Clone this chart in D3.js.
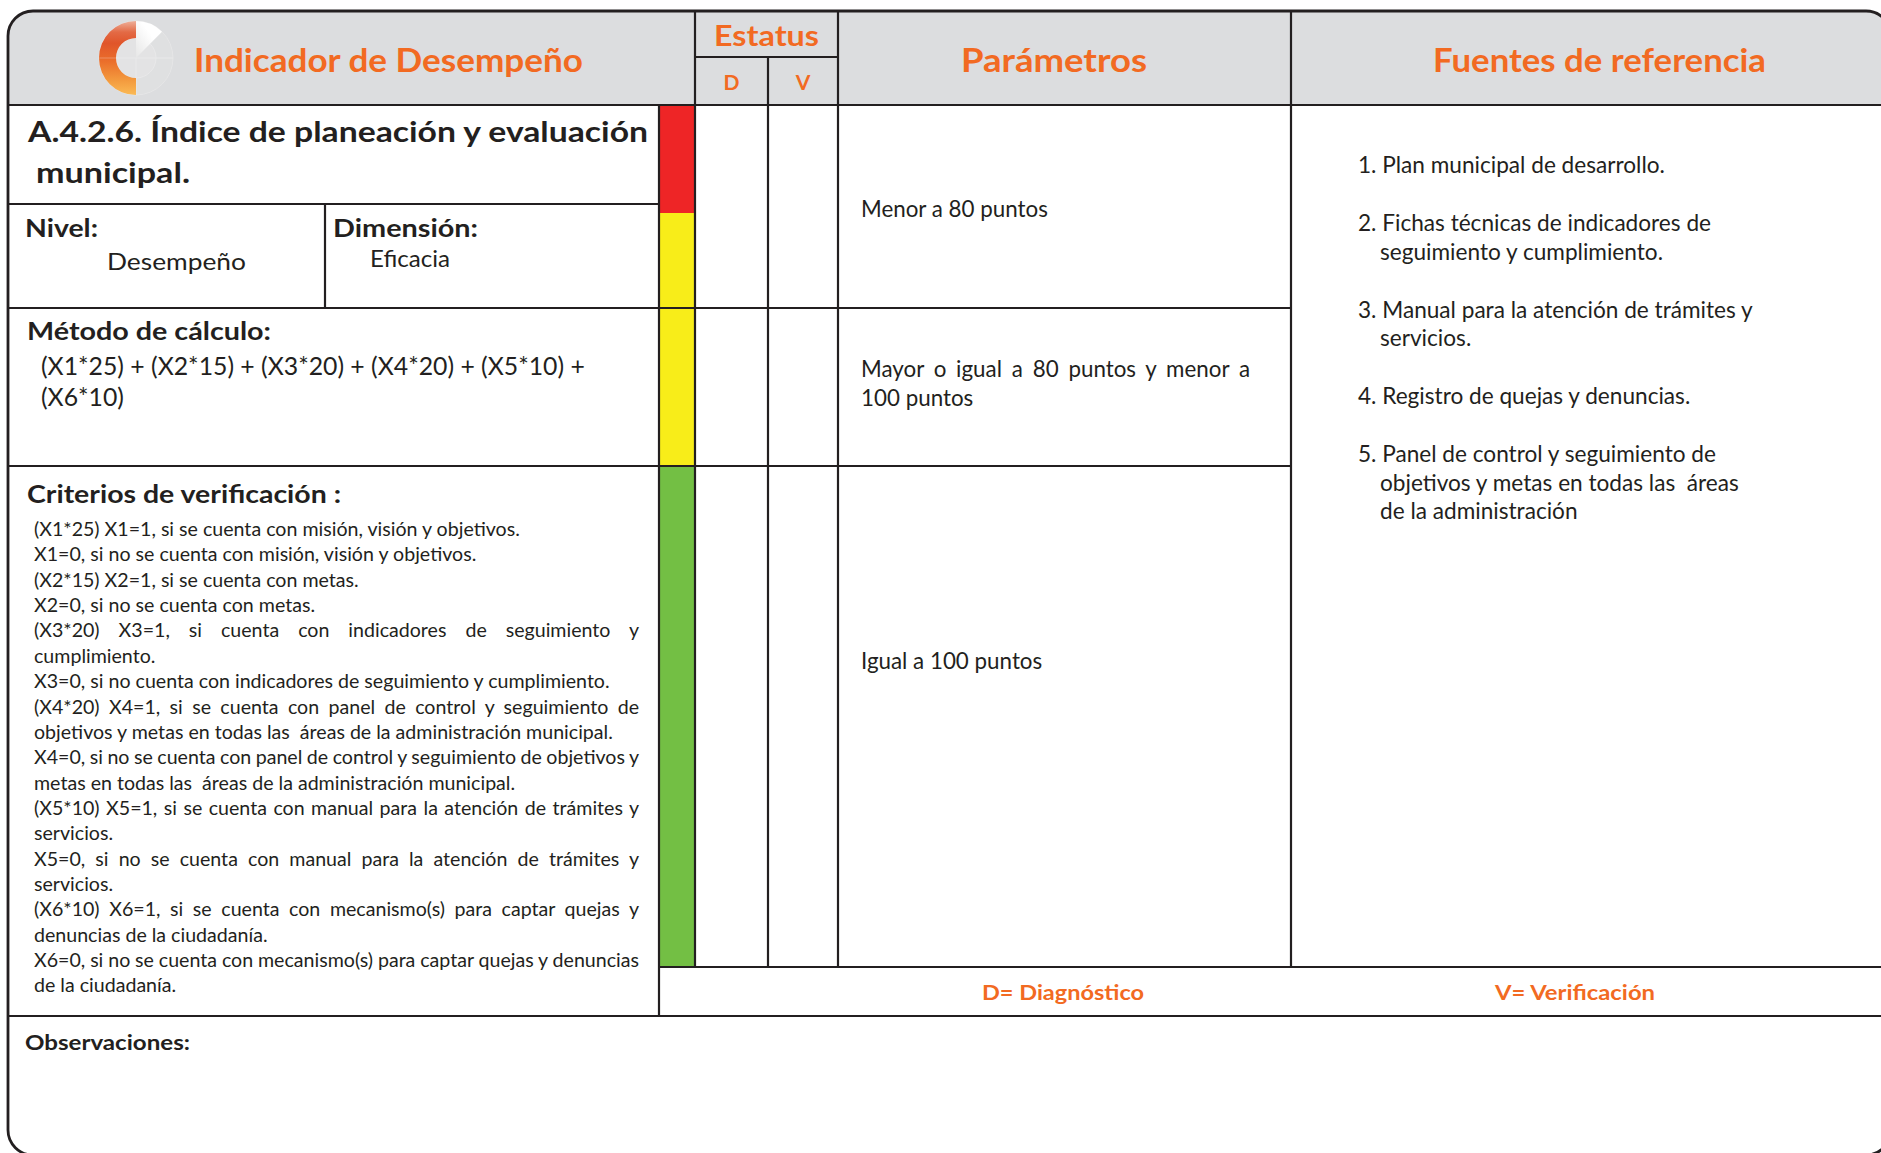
<!DOCTYPE html>
<html><head><meta charset="utf-8">
<script src="https://cdn.jsdelivr.net/npm/d3@7"></script>
<style>html,body{margin:0;padding:0;background:#fff}svg{display:block}</style>
</head><body>
<svg id="chart"></svg>
<script>
// ---------- content ----------
const headerTitles = ["Indicador de Desempeño", "Estatus", "Parámetros", "Fuentes de referencia"];
const statusColumns = ["D", "V"];
const indicatorTitle = ["A.4.2.6. Índice de planeación y evaluación", "municipal."];
const fieldLabels = ["Nivel:", "Dimensión:"];
const fieldValues = ["Desempeño", "Eficacia"];
const methodLabel = "Método de cálculo:";
const formulaLines = ["(X1*25) + (X2*15) + (X3*20) + (X4*20) + (X5*10) +", "(X6*10)"];
const criteriaLabel = "Criterios de verificación :";
const criteria = [
  ["(X1*25) X1=1, si se cuenta con misión, visión y objetivos."],
  ["X1=0, si no se cuenta con misión, visión y objetivos."],
  ["(X2*15) X2=1, si se cuenta con metas."],
  ["X2=0, si no se cuenta con metas."],
  ["(X3*20) X3=1, si cuenta con indicadores de seguimiento y", "cumplimiento."],
  ["X3=0, si no cuenta con indicadores de seguimiento y cumplimiento."],
  ["(X4*20) X4=1, si se cuenta con panel de control y seguimiento de", "objetivos y metas en todas las  áreas de la administración municipal."],
  ["X4=0, si no se cuenta con panel de control y seguimiento de objetivos y", "metas en todas las  áreas de la administración municipal."],
  ["(X5*10) X5=1, si se cuenta con manual para la atención de trámites y", "servicios."],
  ["X5=0, si no se cuenta con manual para la atención de trámites y", "servicios."],
  ["(X6*10) X6=1, si se cuenta con mecanismo(s) para captar quejas y", "denuncias de la ciudadanía."],
  ["X6=0, si no se cuenta con mecanismo(s) para captar quejas y denuncias", "de la ciudadanía."]
];
const parameters = [
  ["Menor a 80 puntos"],
  ["Mayor o igual a 80 puntos y menor a", "100 puntos"],
  ["Igual a 100 puntos"]
];
const statusLevels = ["rojo", "amarillo", "verde"];
const statusColors = ["#ee2526", "#f8ed19", "#73bf44"];
const sources = [
  ["1. Plan municipal de desarrollo."],
  ["2. Fichas técnicas de indicadores de", "seguimiento y cumplimiento."],
  ["3. Manual para la atención de trámites y", "servicios."],
  ["4. Registro de quejas y denuncias."],
  ["5. Panel de control y seguimiento de", "objetivos y metas en todas las  áreas", "de la administración"]
];
const legendItems = ["D= Diagnóstico", "V= Verificación"];
const observationsLabel = "Observaciones:";

// ---------- layout ----------
const W = 1881, H = 1153;
const INK = "#231f20", ORANGE = "#f26a22", HEAD_BG = "#dcdddf";
const FONT = "Lato, 'Open Sans', sans-serif";

const colKeys = ["left", "split", "bar", "d", "v", "param", "src", "right"];
const x = d3.scaleOrdinal().domain(colKeys).range([8, 325, 659, 695, 768, 838, 1291, 1891]);
const rowKeys = ["top", "sub", "head", "title", "redEnd", "calc", "crit", "foot", "obs", "bottom"];
const y = d3.scaleOrdinal().domain(rowKeys).range([11, 57, 105, 204, 213, 308, 466, 967, 1016, 1155]);

const svg = d3.select("#chart").attr("width", W).attr("height", H)
  .attr("viewBox", `0 0 ${W} ${H}`);

const defs = svg.append("defs");
defs.append("clipPath").attr("id", "frame").append("rect")
  .attr("x", x("left")).attr("y", y("top"))
  .attr("width", x("right") - x("left")).attr("height", y("bottom") - y("top")).attr("rx", 25);

// header band
svg.append("rect").attr("clip-path", "url(#frame)")
  .attr("x", x("left")).attr("y", y("top"))
  .attr("width", x("right") - x("left")).attr("height", y("head") - y("top"))
  .attr("fill", HEAD_BG);

// semaphore colour bar
const bands = [["head", "redEnd"], ["redEnd", "crit"], ["crit", "foot"]];
svg.append("g").selectAll("rect").data(statusLevels).join("rect")
  .attr("x", x("bar")).attr("width", x("d") - x("bar"))
  .attr("y", (d, i) => y(bands[i][0]))
  .attr("height", (d, i) => y(bands[i][1]) - y(bands[i][0]))
  .attr("fill", (d, i) => statusColors[i]);

// grid lines: [orientation, fixed key, from key, to key]
const gridLines = [
  ["h", "head", "left", "right"],
  ["h", "sub", "d", "param"],
  ["h", "title", "left", "bar"],
  ["h", "calc", "left", "src"],
  ["h", "crit", "left", "src"],
  ["h", "foot", "bar", "right"],
  ["h", "obs", "left", "right"],
  ["v", "d", "top", "foot"],
  ["v", "v", "sub", "foot"],
  ["v", "param", "top", "foot"],
  ["v", "src", "top", "foot"],
  ["v", "bar", "head", "obs"],
  ["v", "split", "title", "calc"]
];
svg.append("g").attr("stroke", INK).attr("stroke-width", 2.2).attr("clip-path", "url(#frame)")
  .selectAll("line").data(gridLines).join("line")
  .attr("x1", d => d[0] === "h" ? x(d[2]) : x(d[1]))
  .attr("x2", d => d[0] === "h" ? x(d[3]) : x(d[1]))
  .attr("y1", d => d[0] === "h" ? y(d[1]) : y(d[2]))
  .attr("y2", d => d[0] === "h" ? y(d[1]) : y(d[3]));

// outer frame
svg.append("rect")
  .attr("x", x("left")).attr("y", y("top"))
  .attr("width", x("right") - x("left")).attr("height", y("bottom") - y("top")).attr("rx", 25)
  .attr("fill", "none").attr("stroke", INK).attr("stroke-width", 2.8);

// ---------- logo ----------
const grad = defs.append("linearGradient").attr("id", "logoGrad")
  .attr("gradientUnits", "userSpaceOnUse")
  .attr("x1", 0).attr("y1", 21).attr("x2", 0).attr("y2", 95);
[["0", "#eeb09a"], ["0.15", "#e36a45"], ["0.3", "#e0552a"], ["0.55", "#eb6f2b"], ["0.8", "#f39a3e"], ["1", "#fbba55"]]
  .forEach(s => grad.append("stop").attr("offset", s[0]).attr("stop-color", s[1]));
const wedgeGrad = defs.append("linearGradient").attr("id", "wedgeGrad")
  .attr("x1", 0).attr("y1", 1).attr("x2", 1).attr("y2", 0);
wedgeGrad.append("stop").attr("offset", "0").attr("stop-color", "#e6e6e6");
wedgeGrad.append("stop").attr("offset", "0.6").attr("stop-color", "#ffffff");
const cx = 136, cy = 58, R = 37, r0 = 20;
const logo = svg.append("g").attr("transform", `translate(${cx},${cy})`);
const arc = d3.arc();
// faint right half ring and inner disc
logo.append("circle").attr("r", R).attr("fill", "#dfe0e1").attr("stroke", "#e6e6e7").attr("stroke-width", 1);
logo.append("circle").attr("r", r0).attr("fill", "#e3e3e4").attr("stroke", "#e9e9ea").attr("stroke-width", 1);
logo.append("path").attr("fill", "url(#wedgeGrad)")
  .attr("d", arc({innerRadius: 0, outerRadius: R, startAngle: 0, endAngle: 0.78}));
logo.append("line").attr("x1", -R).attr("x2", R).attr("y1", 0).attr("y2", 0)
  .attr("stroke", "#e9e9ea").attr("stroke-width", 1);
logo.append("line").attr("x1", 0).attr("x2", 0).attr("y1", 0).attr("y2", R)
  .attr("stroke", "#e9e9ea").attr("stroke-width", 1);
// orange half ring (left side)
logo.append("path").attr("fill", "url(#logoGrad)").attr("transform", `translate(${-cx},${-cy})`)
  .attr("d", () => {
    const p = d3.path();
    p.moveTo(cx, cy - R);
    p.arc(cx, cy, R, -Math.PI / 2, Math.PI / 2, true);
    p.lineTo(cx, cy + r0);
    p.arc(cx, cy, r0, Math.PI / 2, -Math.PI / 2, false);
    p.closePath();
    return p.toString();
  });
logo.append("line").attr("x1", -R).attr("x2", -r0).attr("y1", 0).attr("y2", 0)
  .attr("stroke", "#f0a27c").attr("stroke-width", 1).attr("opacity", 0.7);

// ---------- text helper ----------
function txt(s, px, py, o) {
  const t = svg.append("text").attr("x", px).attr("y", py)
    .attr("font-family", FONT).attr("font-size", o.size)
    .attr("font-weight", o.weight || 400).attr("fill", o.fill || INK)
    .attr("text-anchor", o.anchor || "start").style("white-space", "pre").text(s);
  const w = t.node().getComputedTextLength();
  if (o.justify) {
    const n = (s.match(/ /g) || []).length;
    if (n) t.attr("word-spacing", (o.justify - w) / n);
  } else if (o.width) {
    t.attr("textLength", o.width).attr("lengthAdjust", "spacingAndGlyphs");
  }
  return t;
}
function sizeFor(s, target, weight) {
  const t = svg.append("text").attr("font-family", FONT).attr("font-size", 100)
    .attr("font-weight", weight || 400).style("white-space", "pre").text(s);
  const w = t.node().getComputedTextLength();
  t.remove();
  return 100 * target / w;
}

// header titles
txt(headerTitles[0], 194, 72, {size: 32, weight: 700, fill: ORANGE, width: 389});
txt(headerTitles[1], 714, 46, {size: 29, weight: 700, fill: ORANGE, width: 105});
txt(headerTitles[2], 961, 72, {size: 32, weight: 700, fill: ORANGE, width: 186});
txt(headerTitles[3], 1433, 72, {size: 32, weight: 700, fill: ORANGE, width: 333});
statusColumns.forEach((c, i) => {
  const a = i === 0 ? x("d") : x("v"), b = i === 0 ? x("v") : x("param");
  txt(c, (a + b) / 2, 90, {size: 21, weight: 700, fill: ORANGE, anchor: "middle"});
});

// indicator title
txt(indicatorTitle[0], 28, 142, {size: 29, weight: 700, width: 620});
txt(indicatorTitle[1], 36, 183, {size: 29, weight: 700, width: 154});

// level / dimension
txt(fieldLabels[0], 25, 237, {size: 25, weight: 700, width: 73});
txt(fieldValues[0], 107, 270, {size: 23, width: 139});
txt(fieldLabels[1], 333, 237, {size: 25, weight: 700, width: 145});
txt(fieldValues[1], 370, 267, {size: 23, width: 80});

// method
txt(methodLabel, 27, 340, {size: 25, weight: 700, width: 244});
const fSize = sizeFor(formulaLines[0], 544);
txt(formulaLines[0], 41, 375, {size: fSize});
txt(formulaLines[1], 41, 406, {size: fSize});

// criteria
txt(criteriaLabel, 27, 503, {size: 25, weight: 700, width: 314});
const cSize = sizeFor(criteria[0][0], 486);
let ln = 0;
criteria.forEach(par => par.forEach((line, j) => {
  const last = j === par.length - 1;
  txt(line, 34, 536 + ln * 25.36, last ? {size: cSize} : {size: cSize, justify: 605});
  ln++;
}));

// parameters
const pSize = sizeFor(parameters[0][0], 187);
const paramBase = [[217], [377, 406], [669]];
parameters.forEach((par, i) => par.forEach((line, j) => {
  const last = j === par.length - 1;
  txt(line, 861, paramBase[i][j], last ? {size: pSize} : {size: pSize, justify: 389});
}));

// sources
const sSize = sizeFor(sources[0][0], 307);
let sy = 173;
sources.forEach(item => {
  item.forEach((line, j) => {
    txt(line, j === 0 ? 1358 : 1380, sy, {size: sSize});
    sy += 28.5;
  });
  sy += 29.5;
});

// legend
txt(legendItems[0], 1063, 1000, {size: 21, weight: 700, fill: ORANGE, anchor: "middle", width: 162});
txt(legendItems[1], 1575, 1000, {size: 21, weight: 700, fill: ORANGE, anchor: "middle", width: 160});

// observations
txt(observationsLabel, 25, 1050, {size: 21, weight: 700, width: 165});
</script>
</body></html>
